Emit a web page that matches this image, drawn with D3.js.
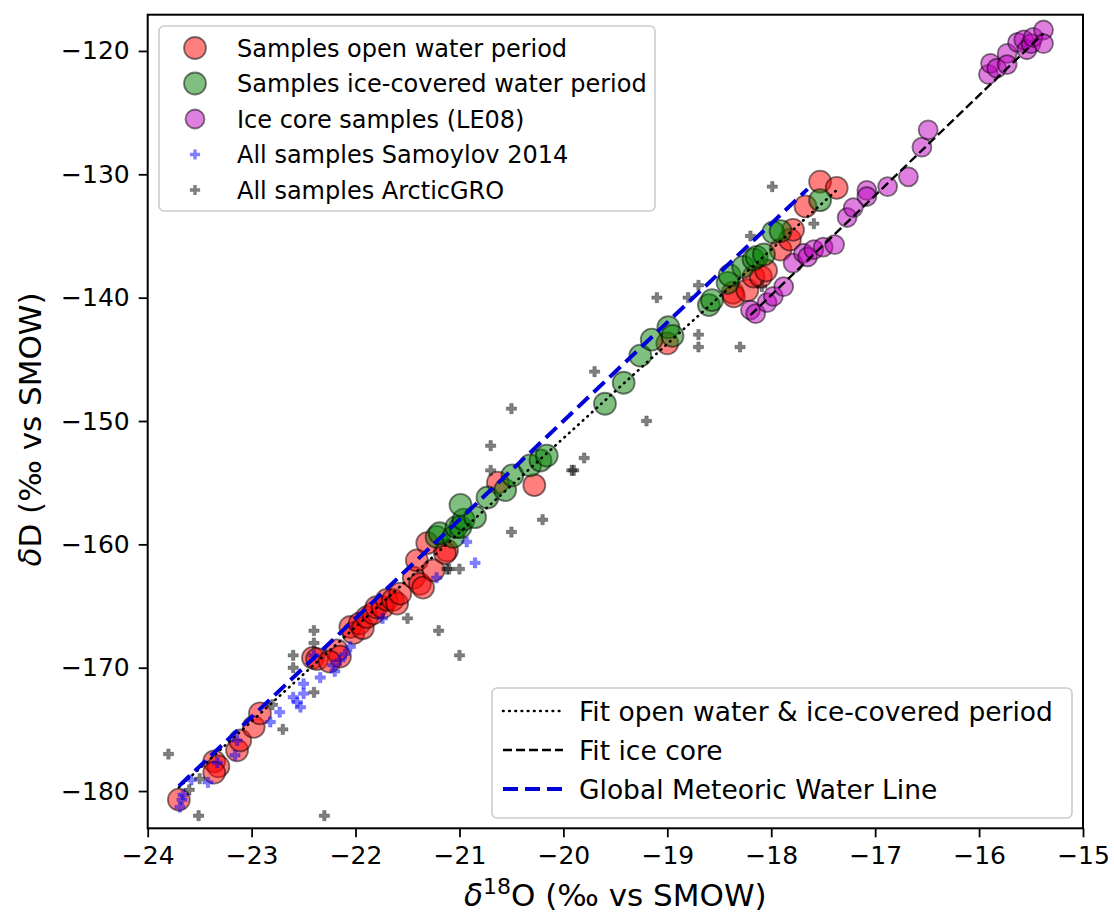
<!DOCTYPE html>
<html>
<head>
<meta charset="utf-8">
<script src="https://cdn.jsdelivr.net/npm/d3@7/dist/d3.min.js"></script>
<style>
  html, body { margin: 0; padding: 0; background: #fff; }
  svg { display: block; font-family: "DejaVu Sans", sans-serif; }
</style>
</head>
<body>
<svg id="chart" width="1114" height="916"></svg>
<script>
// δ18O / δD pairs (‰ vs SMOW)
const openWater = [
  [-23.70,-180.7],
  [-23.36,-177.6],[-23.32,-178.0],[-23.36,-178.5],
  [-23.14,-176.7],[-23.11,-175.9],
  [-22.98,-174.8],[-22.92,-173.7],
  [-22.41,-169.2],[-22.37,-169.3],[-22.18,-168.6],[-22.15,-169.1],[-22.25,-169.5],
  [-22.05,-166.7],[-22.02,-167.2],[-21.96,-166.4],[-21.93,-166.8],[-21.89,-165.9],
  [-21.83,-165.6],[-21.80,-165.1],[-21.74,-165.1],[-21.70,-164.5],[-21.64,-164.5],
  [-21.60,-164.8],[-21.57,-164.0],
  [-21.44,-162.7],[-21.38,-163.2],[-21.35,-163.5],[-21.41,-161.3],[-21.25,-162.1],
  [-21.31,-159.9],[-21.12,-160.5],[-21.14,-160.7],
  [-20.63,-155.0],[-20.28,-155.2],
  [-19.00,-143.7],
  [-18.37,-139.6],[-18.36,-139.9],[-18.23,-139.4],[-18.17,-138.3],[-18.10,-138.3],
  [-18.05,-137.8],[-17.91,-136.1],[-17.82,-135.3],[-17.79,-134.5],[-17.67,-132.6],
  [-17.53,-130.6],[-17.37,-131.1]
];

const iceCovered = [
  [-21.22,-159.4],[-21.19,-159.1],[-21.06,-159.4],[-21.03,-158.6],[-20.99,-158.6],
  [-20.96,-158.0],[-20.85,-157.8],[-20.99,-156.8],[-20.73,-156.2],[-20.56,-155.6],
  [-20.49,-154.4],[-20.32,-153.6],[-20.22,-153.2],[-20.16,-152.8],
  [-19.60,-148.6],[-19.42,-146.9],[-19.26,-144.7],[-19.15,-143.4],[-18.99,-142.4],
  [-18.95,-143.1],
  [-18.60,-140.6],[-18.57,-140.2],
  [-18.42,-138.8],[-18.40,-138.2],[-18.27,-137.5],[-18.17,-136.9],[-18.14,-136.7],
  [-18.07,-136.5],[-17.98,-134.7],[-17.91,-134.6],[-17.53,-132.1]
];

const iceCore = [
  [-18.20,-141.0],[-18.15,-141.3],[-18.04,-140.4],[-17.98,-139.9],[-17.88,-139.1],
  [-17.79,-137.2],[-17.69,-136.4],[-17.65,-136.7],[-17.59,-136.1],[-17.50,-135.9],
  [-17.39,-135.7],[-17.27,-133.5],[-17.21,-132.7],[-17.08,-131.3],[-17.08,-131.8],
  [-16.88,-131.0],[-16.68,-130.2],[-16.55,-127.8],[-16.49,-126.4],
  [-15.91,-121.9],[-15.89,-121.0],[-15.83,-121.4],[-15.73,-120.2],[-15.73,-121.1],
  [-15.63,-119.3],[-15.57,-119.1],[-15.54,-119.9],[-15.50,-119.4],[-15.48,-118.9],
  [-15.38,-118.3],[-15.38,-119.4]
];

const samoylov2014 = [
  [-23.69,-181.3],[-23.67,-180.7],[-23.66,-180.3],[-23.58,-179.1],[-23.42,-179.3],
  [-23.33,-177.7],[-23.16,-177.1],[-23.14,-175.9],[-22.82,-174.4],[-22.73,-173.6],
  [-22.60,-172.4],[-22.53,-173.2],[-22.56,-172.8],[-22.50,-172.1],[-22.50,-171.3],
  [-22.34,-170.8],[-22.22,-169.8],[-22.15,-169.4],[-22.10,-168.9],[-22.05,-168.3],
  [-22.20,-170.3],[-22.40,-169.0],[-21.74,-166.0],[-21.22,-162.7],[-20.93,-159.8],
  [-20.85,-161.5]
];

const arcticGRO = [
  [-23.80,-177.0],[-23.51,-182.0],[-22.30,-182.0],[-23.60,-179.9],[-23.50,-179.0],
  [-22.40,-167.0],[-22.40,-168.0],[-22.60,-169.0],[-22.60,-170.0],[-22.40,-172.0],
  [-22.70,-175.0],[-22.80,-173.0],
  [-21.50,-166.0],[-21.20,-167.0],[-21.00,-169.0],[-21.10,-162.0],[-21.12,-162.0],
  [-21.00,-162.0],
  [-20.50,-159.0],[-20.20,-158.0],[-20.50,-149.0],[-20.70,-152.0],[-20.70,-154.0],
  [-19.80,-153.0],[-19.90,-154.0],[-19.92,-154.0],[-19.20,-150.0],
  [-19.70,-146.0],[-19.10,-140.0],[-18.70,-139.0],[-18.80,-140.0],[-18.70,-143.0],
  [-18.70,-144.0],[-18.30,-144.0],[-18.09,-139.1],[-18.20,-135.0],[-17.59,-134.0],
  [-17.99,-131.0]
];

// Regression lines: [slope, intercept] and δ18O extent
const fitOpenIce = [7.65, 1.6];
const fitOpenIceRange = [-23.70, -17.37];
const fitIceCore = [8.1, 6.0];
const fitIceCoreRange = [-18.20, -15.38];
const gmwl = [8, 10];
const gmwlRange = [-23.70, -17.65];

const xTicks = [-24, -23, -22, -21, -20, -19, -18, -17, -16, -15];
const yTicks = [-180, -170, -160, -150, -140, -130, -120];

const scatterLabels = [
  "Samples open water period",
  "Samples ice-covered water period",
  "Ice core samples (LE08)",
  "All samples Samoylov 2014",
  "All samples ArcticGRO"
];
const lineLabels = [
  "Fit open water & ice-covered period",
  "Fit ice core",
  "Global Meteoric Water Line"
];

// ---- layout ----
const svg = d3.select("#chart");
const plot = { left: 147.7, right: 1083, top: 14.7, bottom: 828.3 };

const x = d3.scaleLinear().domain([-24, -15]).range([plot.left, plot.right]);
const y = d3.scaleLinear().domain([-183.02, -117.06]).range([plot.bottom, plot.top]);

const fmt = v => String(v).replace("-", "\u2212");

// axes
const xAxis = svg.append("g")
  .attr("transform", `translate(0,${plot.bottom})`)
  .call(d3.axisBottom(x).tickValues(xTicks).tickFormat(fmt).tickSize(9).tickPadding(9));
const yAxis = svg.append("g")
  .attr("transform", `translate(${plot.left},0)`)
  .call(d3.axisLeft(y).tickValues(yTicks).tickFormat(fmt).tickSize(9).tickPadding(9));

[xAxis, yAxis].forEach(g => {
  g.select(".domain").remove();
  g.selectAll(".tick line").attr("stroke", "#000").attr("stroke-width", 1.8);
  g.selectAll(".tick text")
    .attr("fill", "#000")
    .style("font-family", "'DejaVu Sans', sans-serif")
    .style("font-size", "25px");
});

svg.append("defs").append("clipPath").attr("id", "plotclip")
  .append("rect")
  .attr("x", plot.left).attr("y", plot.top)
  .attr("width", plot.right - plot.left).attr("height", plot.bottom - plot.top);

const layer = svg.append("g").attr("clip-path", "url(#plotclip)");

// circles
function circles(data, fill, r) {
  layer.append("g").selectAll("circle").data(data).join("circle")
    .attr("cx", d => x(d[0])).attr("cy", d => y(d[1])).attr("r", r)
    .attr("fill", fill).attr("fill-opacity", 0.5)
    .attr("stroke", "#000").attr("stroke-opacity", 0.5).attr("stroke-width", 1.8);
}
circles(openWater, "#ff0000", 11);
circles(iceCovered, "#008000", 11);
circles(iceCore, "#bf00bf", 9.5);

// filled plus markers
const plusPath = d3.symbol(d3.symbolCross, 58)();
function pluses(data, fill) {
  layer.append("g").selectAll("path").data(data).join("path")
    .attr("d", plusPath)
    .attr("transform", d => `translate(${x(d[0])},${y(d[1])})`)
    .attr("fill", fill).attr("fill-opacity", 0.5)
    .attr("stroke", fill).attr("stroke-opacity", 0.25).attr("stroke-width", 1)
    .attr("stroke-linejoin", "round");
}
pluses(samoylov2014, "#0000ff");
pluses(arcticGRO, "#000000");

// regression lines
const line = d3.line().x(d => x(d[0])).y(d => y(d[1]));
function fitLine(coef, range, color, width, dash, cap) {
  const pts = range.map(v => [v, coef[0] * v + coef[1]]);
  layer.append("path").attr("d", line(pts))
    .attr("fill", "none").attr("stroke", color)
    .attr("stroke-width", width).attr("stroke-dasharray", dash)
    .attr("stroke-linecap", cap);
}
fitLine(fitOpenIce, fitOpenIceRange, "#000", 2.6, "0.6,5.6", "round");
fitLine(fitIceCore, fitIceCoreRange, "#000", 2.4, "9,4", "butt");
fitLine(gmwl, gmwlRange, "#0000d8", 4, "15,7", "butt");

// frame
svg.append("rect")
  .attr("x", plot.left).attr("y", plot.top)
  .attr("width", plot.right - plot.left).attr("height", plot.bottom - plot.top)
  .attr("fill", "none").attr("stroke", "#000").attr("stroke-width", 2);

// axis labels
const xl = svg.append("text")
  .attr("x", (plot.left + plot.right) / 2).attr("y", 906)
  .attr("text-anchor", "middle").style("font-size", "31px").attr("fill", "#000");
xl.append("tspan").style("font-style", "italic").text("δ");
xl.append("tspan").attr("dy", -12).style("font-size", "22px").text("18");
xl.append("tspan").attr("dy", 12).text("O (‰ vs SMOW)");

const yl = svg.append("text")
  .attr("transform", `translate(41,${(plot.top + plot.bottom) / 2 + 8}) rotate(-90)`)
  .attr("text-anchor", "middle").style("font-size", "31px").attr("fill", "#000");
yl.append("tspan").style("font-style", "italic").text("δ");
yl.append("tspan").text("D (‰ vs SMOW)");

// legend: scatter series
const leg1 = svg.append("g");
leg1.append("rect")
  .attr("x", 159).attr("y", 26).attr("width", 496).attr("height", 185)
  .attr("rx", 5).attr("fill", "#fff").attr("fill-opacity", 0.8)
  .attr("stroke", "#cccccc").attr("stroke-width", 1.6);
const leg1Rows = [48, 83.5, 119, 154.5, 190];
const leg1Marks = [
  { type: "c", fill: "#ff0000", r: 11 },
  { type: "c", fill: "#008000", r: 11 },
  { type: "c", fill: "#bf00bf", r: 9.5 },
  { type: "p", fill: "#0000ff" },
  { type: "p", fill: "#000000" }
];
scatterLabels.forEach((lab, i) => {
  const m = leg1Marks[i], cy = leg1Rows[i];
  if (m.type === "c") {
    leg1.append("circle").attr("cx", 195).attr("cy", cy).attr("r", m.r)
      .attr("fill", m.fill).attr("fill-opacity", 0.5)
      .attr("stroke", "#000").attr("stroke-opacity", 0.5).attr("stroke-width", 1.8);
  } else {
    leg1.append("path").attr("d", plusPath)
      .attr("transform", `translate(195,${cy})`)
      .attr("fill", m.fill).attr("fill-opacity", 0.5);
  }
  leg1.append("text").attr("x", 237).attr("y", cy + 8.5)
    .style("font-size", "24px").attr("fill", "#000").text(lab);
});

// legend: fitted lines
const leg2 = svg.append("g");
leg2.append("rect")
  .attr("x", 492).attr("y", 688).attr("width", 580).attr("height", 130)
  .attr("rx", 5).attr("fill", "#fff").attr("fill-opacity", 0.8)
  .attr("stroke", "#cccccc").attr("stroke-width", 1.6);
const leg2Rows = [711, 750, 789];
const leg2Styles = [
  { color: "#000", w: 2.6, dash: "0.6,5.6", cap: "round" },
  { color: "#000", w: 2.4, dash: "9,4", cap: "butt" },
  { color: "#0000d8", w: 4, dash: "15,7", cap: "butt" }
];
lineLabels.forEach((lab, i) => {
  const s = leg2Styles[i], cy = leg2Rows[i];
  leg2.append("line").attr("x1", 503).attr("x2", 563).attr("y1", cy).attr("y2", cy)
    .attr("stroke", s.color).attr("stroke-width", s.w)
    .attr("stroke-dasharray", s.dash).attr("stroke-linecap", s.cap);
  leg2.append("text").attr("x", 579).attr("y", cy + 9.5)
    .style("font-size", "26.5px").attr("fill", "#000").text(lab);
});
</script>
</body>
</html>
